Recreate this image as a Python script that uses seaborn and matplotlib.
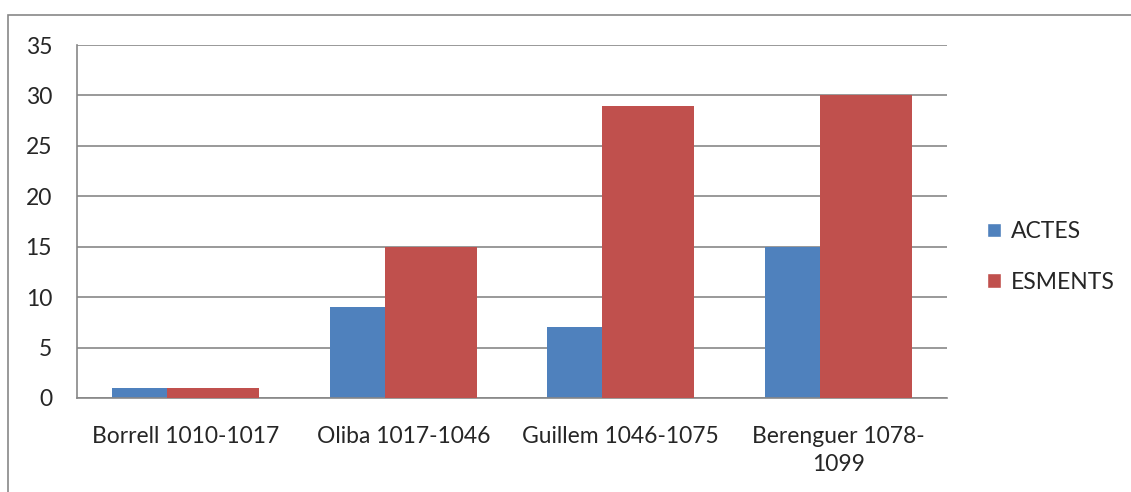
import pandas as pd
import seaborn as sns
import matplotlib.pyplot as plt
from matplotlib.patches import Rectangle

categories = ['Borrell 1010-1017', 'Oliba 1017-1046', 'Guillem 1046-1075', 'Berenguer 1078-\n1099']
actes = [1, 9, 7, 15]
esments = [1, 15, 29, 30]
series = ['ACTES', 'ESMENTS']
colors = ['#4F81BD', '#C0504D']

df = pd.DataFrame({
    'cat': categories * 2,
    'val': actes + esments,
    'serie': [series[0]] * 4 + [series[1]] * 4,
})

sns.set_style('white')
plt.rcParams['font.family'] = ['Lato', 'DejaVu Sans']

fig = plt.figure(figsize=(11.31, 4.92), dpi=100)
ax = fig.add_axes([0.0681, 0.1911, 0.7692, 0.7174])

sns.barplot(data=df, x='cat', y='val', hue='serie', palette=colors, width=0.846,
            dodge=True, saturation=1, ax=ax, legend=True)

# excel-style overlap: pull the two bars of each group together
shift = 0.084
for p in ax.patches:
    if p.get_height() == 0 and p.get_width() == 0:
        continue
    fc = p.get_facecolor()
    if abs(fc[0] - 0.31) < 0.05:  # blue
        p.set_x(p.get_x() + shift)
        p.set_zorder(2)
    else:
        p.set_x(p.get_x() - shift)
        p.set_zorder(3)
    p.set_linewidth(0)

fs = 16.5
ax.set_ylim(0, 35)
ax.set_yticks(range(0, 36, 5))
ax.set_xlim(-0.5, 3.5)
ax.yaxis.grid(True, color='#878787', linewidth=1.2)
ax.set_axisbelow(True)
for s in ['top', 'right']:
    ax.spines[s].set_visible(False)
for s in ['left', 'bottom']:
    ax.spines[s].set_color('#878787')
    ax.spines[s].set_linewidth(1.2)
ax.set_xlabel('')
ax.set_ylabel('')
ax.tick_params(axis='both', length=0, labelsize=fs)
ax.tick_params(axis='y', pad=18)
ax.tick_params(axis='x', pad=20)
for t in ax.get_xticklabels():
    t.set_linespacing(1.45)

ax.legend(loc='center left', bbox_to_anchor=(1.022, 0.4), frameon=False,
          fontsize=fs, handlelength=0.6, handleheight=0.6, labelspacing=1.3,
          handletextpad=0.45)

fig.patches.append(Rectangle((8 / 1131, -0.1), 1.2, 1 - 15 / 492 + 0.1,
                             transform=fig.transFigure, fill=False,
                             edgecolor='#878787', linewidth=1.2))

fig.savefig('out.png', dpi=100)
